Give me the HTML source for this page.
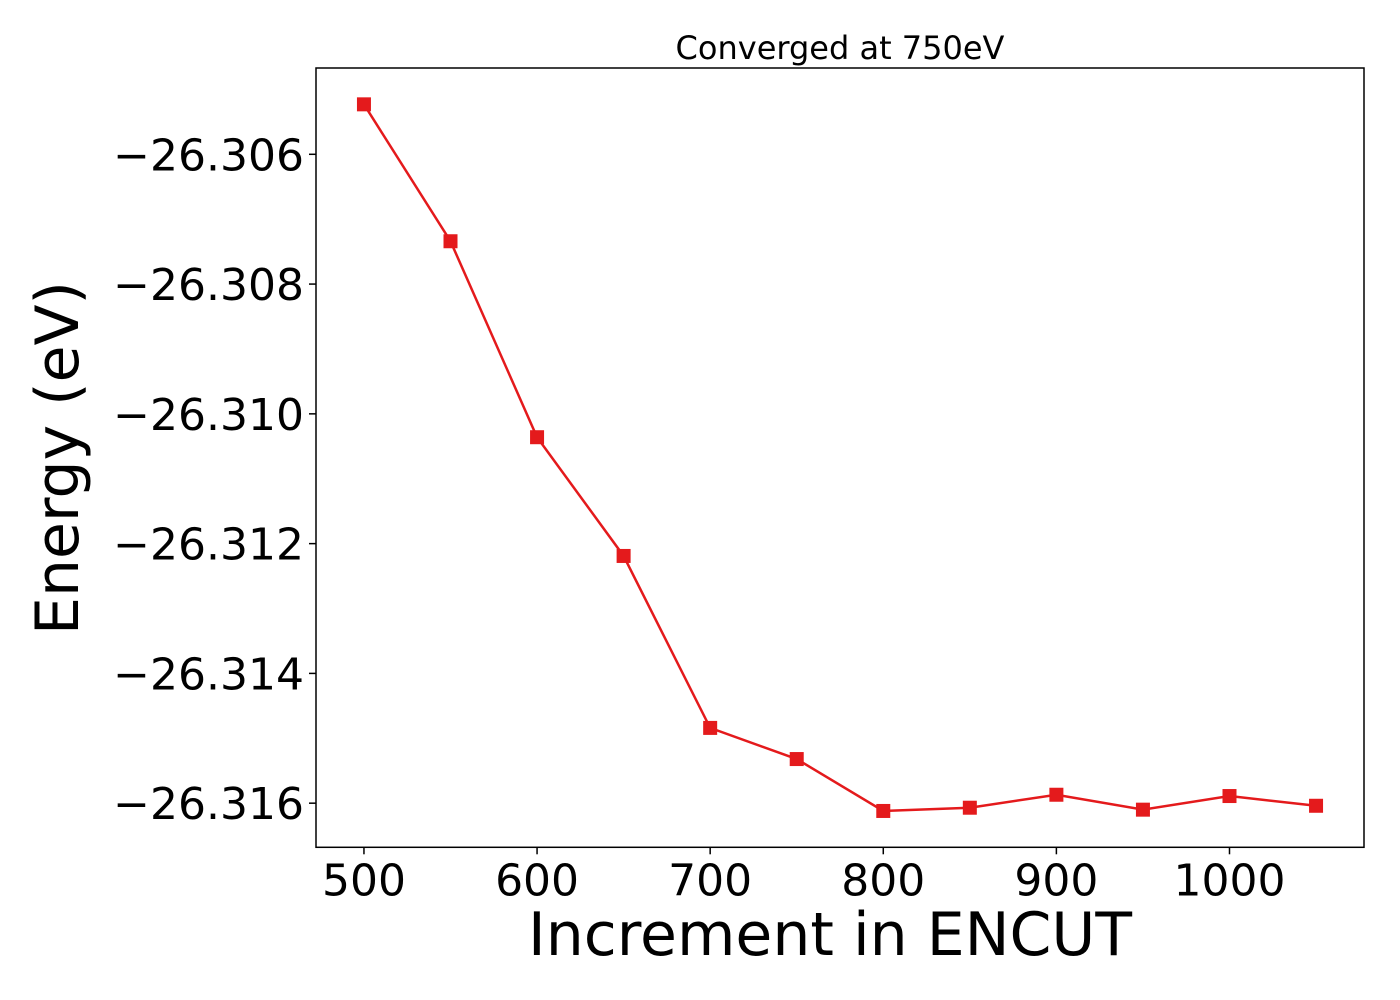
<!DOCTYPE html>
<html><head><meta charset="utf-8"><style>
html,body{margin:0;padding:0;background:#fff;}
svg{display:block;font-family:"DejaVu Sans","Liberation Sans",sans-serif;}
</style></head><body>
<svg id="chart" width="1400" height="1000" viewBox="0 0 1400 1000">
<rect x="0" y="0" width="1400" height="1000" fill="#fff"/>
<text x="840" y="59" font-size="32" text-anchor="middle">Converged at 750eV</text>
<g id="grid"></g>
<g id="series"></g>
<rect x="316" y="68" width="1048" height="779.3" fill="none" stroke="#000" stroke-width="1.5"/>
<text x="830" y="955" font-size="60" text-anchor="middle">Increment in ENCUT</text>
<text transform="translate(78,458) rotate(-90)" font-size="60" text-anchor="middle">Energy (eV)</text>
</svg>
<script>
const encut = [500,550,600,650,700,750,800,850,900,950,1000,1050];
const energy = [-26.30523,-26.30734,-26.31036,-26.31219,-26.31484,-26.31532,-26.31612,-26.31607,-26.31587,-26.31610,-26.31589,-26.31604];
const xTicks = [500,600,700,800,900,1000];
const yTicks = [-26.306,-26.308,-26.310,-26.312,-26.314,-26.316];
const yTickLabels = ["\u221226.306","\u221226.308","\u221226.310","\u221226.312","\u221226.314","\u221226.316"];

const L=316,R=1364,T=68,B=847.3;
const xMin=472.3,xMax=1077.7,yMin=-26.31668,yMax=-26.30467;
const sx=v=>L+(v-xMin)/(xMax-xMin)*(R-L);
const sy=v=>B-(v-yMin)/(yMax-yMin)*(B-T);
const NS="http://www.w3.org/2000/svg";
const g=document.getElementById('grid'), s=document.getElementById('series');
function mk(tag,attrs,parent){const e=document.createElementNS(NS,tag);for(const k in attrs)e.setAttribute(k,attrs[k]);parent.appendChild(e);return e;}
xTicks.forEach(v=>{
  const x=sx(v);
  const t=mk('line',{x1:x,x2:x,y1:B,y2:B+7,stroke:'#000','stroke-width':1.5},g);
  
  
  const l=mk('text',{x:x,y:B+48,'font-size':44,'text-anchor':'middle'},g);
  l.textContent=v;
  
  
});
yTicks.forEach((v,i)=>{
  const y=sy(v);
  const t=mk('line',{x1:L-7,x2:L,y1:y,y2:y,stroke:'#000','stroke-width':1.5},g);
  
  
  const l=mk('text',{x:L-12,y:y+16,'font-size':44,'text-anchor':'end'},g);
  l.textContent=yTickLabels[i];
  
  
});
const pts=encut.map((v,i)=>sx(v)+','+sy(energy[i])).join(' ');
const pl=mk('polyline',{points:pts,fill:'none',stroke:'#e41a1c','stroke-width':2.5},s);


encut.forEach((v,i)=>{
  const m=mk('rect',{x:sx(v)-7,y:sy(energy[i])-7,width:14,height:14,fill:'#e41a1c'},s);
  
  
});
</script>
</body></html>
